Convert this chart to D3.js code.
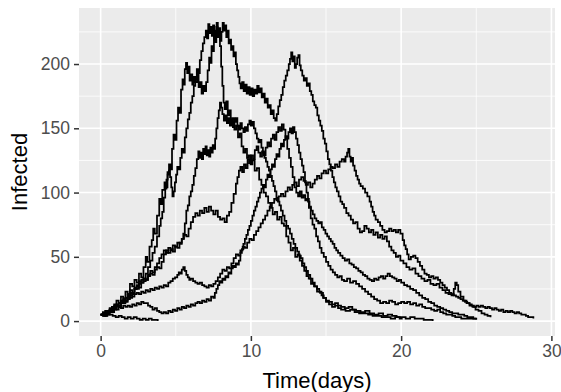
<!DOCTYPE html>
<html><head><meta charset="utf-8">
<script src="https://cdn.jsdelivr.net/npm/d3@7"></script>
<style>html,body{margin:0;padding:0;background:#fff;}svg{display:block;}</style>
</head><body><svg id="chart" width="561" height="392"></svg>
<script>
// ---- data: stochastic epidemic runs, [time (days), infected] ----
const runA = [[0,5],[0.15,6],[0.3,4],[0.45,7],[0.6,9],[0.75,8],[0.9,12],[1.05,16],[1.2,14],[1.35,19],[1.5,17],[1.65,23],[1.8,21],[1.95,29],[2.1,27],[2.25,32],[2.4,30],[2.55,37],[2.7,34],[2.85,42],[3.0,50],[3.1,46],[3.25,58],[3.4,63],[3.5,72],[3.6,68],[3.75,82],[3.9,95],[4.0,91],[4.1,102],[4.25,108],[4.35,104],[4.45,116],[4.55,122],[4.65,118],[4.75,134],[4.85,145],[4.95,141],[5.05,156],[5.15,166],[5.25,162],[5.35,180],[5.45,188],[5.52,184],[5.6,196],[5.68,201],[5.76,193],[5.84,198],[5.92,187],[6.0,192],[6.1,184],[6.2,190],[6.3,186],[6.42,193],[6.52,182],[6.62,186],[6.72,177],[6.82,183],[6.92,179],[7.02,186],[7.12,195],[7.22,205],[7.3,201],[7.38,214],[7.46,210],[7.54,223],[7.62,217],[7.7,229],[7.78,221],[7.86,227],[7.94,214],[8.02,198],[8.1,183],[8.18,170],[8.26,165],[8.36,171],[8.46,160],[8.56,164],[8.66,155],[8.78,158],[8.9,149],[9.02,152],[9.14,143],[9.26,146],[9.38,136],[9.5,131],[9.62,134],[9.74,127],[9.86,129],[9.98,122],[10.1,125],[10.25,117],[10.4,119],[10.55,110],[10.7,106],[10.85,100],[11.0,97],[11.15,92],[11.3,88],[11.45,83],[11.6,85],[11.75,79],[11.9,81],[12.05,76],[12.2,74],[12.35,66],[12.5,61],[12.65,55],[12.8,57],[12.95,50],[13.1,52],[13.25,47],[13.4,43],[13.55,39],[13.7,35],[13.85,33],[14.0,29],[14.2,27],[14.4,23],[14.6,22],[14.8,18],[15.0,15],[15.2,13],[15.4,11],[15.6,12],[15.8,10],[16.0,9],[16.3,8],[16.6,9],[16.9,7],[17.2,6],[17.5,6],[17.8,5],[18.1,4],[18.4,4],[18.7,3],[19.0,3],[19.3,2],[19.6,3],[19.9,2],[20.1,2]];
const runB = [[0,5],[0.15,4],[0.3,6],[0.45,5],[0.6,8],[0.75,7],[0.9,10],[1.05,12],[1.2,11],[1.35,15],[1.5,14],[1.65,18],[1.8,21],[1.95,24],[2.1,22],[2.25,26],[2.4,25],[2.55,29],[2.7,32],[2.85,31],[3.0,37],[3.15,42],[3.3,47],[3.45,53],[3.6,58],[3.75,66],[3.9,74],[4.0,80],[4.1,85],[4.2,96],[4.3,103],[4.38,110],[4.46,114],[4.54,117],[4.62,112],[4.7,104],[4.78,97],[4.86,101],[4.94,108],[5.02,114],[5.1,120],[5.2,118],[5.3,127],[5.4,134],[5.5,131],[5.6,143],[5.7,150],[5.8,157],[5.9,162],[6.0,170],[6.1,175],[6.2,183],[6.3,188],[6.4,196],[6.5,193],[6.6,203],[6.7,210],[6.8,216],[6.9,221],[7.0,226],[7.08,220],[7.16,231],[7.24,224],[7.32,229],[7.4,222],[7.48,230],[7.56,219],[7.64,226],[7.72,232],[7.8,224],[7.88,228],[7.96,218],[8.04,225],[8.12,232],[8.2,226],[8.28,230],[8.36,221],[8.44,226],[8.52,216],[8.6,219],[8.68,211],[8.76,214],[8.84,206],[8.92,209],[9.0,200],[9.08,195],[9.16,190],[9.24,185],[9.32,181],[9.42,186],[9.52,179],[9.62,184],[9.72,177],[9.82,182],[9.92,176],[10.02,181],[10.12,175],[10.22,180],[10.32,177],[10.42,183],[10.52,178],[10.62,181],[10.72,174],[10.82,177],[10.92,170],[11.02,173],[11.12,166],[11.22,168],[11.32,161],[11.42,164],[11.52,158],[11.62,156],[11.72,161],[11.82,167],[11.92,172],[12.02,176],[12.12,182],[12.22,187],[12.32,191],[12.42,195],[12.52,200],[12.6,204],[12.68,209],[12.76,202],[12.84,206],[12.92,197],[13.0,200],[13.08,205],[13.16,207],[13.24,199],[13.32,195],[13.42,191],[13.52,187],[13.62,189],[13.72,183],[13.82,185],[13.92,179],[14.02,176],[14.12,171],[14.22,168],[14.32,166],[14.42,160],[14.52,156],[14.62,152],[14.72,148],[14.82,142],[14.92,138],[15.02,132],[15.12,126],[15.22,122],[15.32,117],[15.42,112],[15.52,108],[15.62,104],[15.72,101],[15.84,97],[15.96,93],[16.08,91],[16.2,88],[16.35,84],[16.5,82],[16.65,79],[16.8,76],[16.95,77],[17.1,72],[17.25,69],[17.4,70],[17.55,74],[17.7,72],[17.85,69],[18.0,71],[18.15,67],[18.3,69],[18.45,65],[18.6,67],[18.75,64],[18.9,66],[19.05,62],[19.2,58],[19.35,55],[19.5,53],[19.65,50],[19.8,51],[19.95,47],[20.15,45],[20.35,42],[20.55,40],[20.75,41],[20.95,37],[21.15,35],[21.35,33],[21.55,31],[21.75,32],[21.95,29],[22.15,28],[22.35,29],[22.55,26],[22.75,24],[22.95,22],[23.15,21],[23.35,20],[23.5,25],[23.6,30],[23.7,28],[23.8,23],[23.95,19],[24.15,16],[24.35,14],[24.55,12],[24.75,11],[24.95,9],[25.15,8],[25.35,6],[25.55,5],[25.75,4],[25.95,3]];
const runC = [[0,5],[0.15,6],[0.3,5],[0.45,8],[0.6,7],[0.75,10],[0.9,9],[1.05,12],[1.2,11],[1.35,14],[1.5,16],[1.65,15],[1.8,19],[1.95,18],[2.1,22],[2.25,25],[2.4,28],[2.55,31],[2.7,30],[2.85,33],[3.0,32],[3.15,35],[3.3,37],[3.45,36],[3.6,40],[3.75,42],[3.9,41],[4.05,46],[4.2,52],[4.35,55],[4.5,53],[4.65,56],[4.8,54],[4.95,58],[5.1,57],[5.25,61],[5.4,64],[5.5,68],[5.6,76],[5.7,86],[5.8,90],[5.9,97],[6.0,101],[6.1,106],[6.2,113],[6.3,119],[6.4,126],[6.5,132],[6.58,127],[6.66,131],[6.74,126],[6.82,134],[6.9,130],[6.98,136],[7.06,129],[7.14,133],[7.22,128],[7.3,135],[7.38,131],[7.46,137],[7.54,134],[7.62,142],[7.7,150],[7.78,158],[7.86,164],[7.94,170],[8.02,166],[8.1,161],[8.2,156],[8.3,160],[8.4,154],[8.5,158],[8.6,152],[8.7,157],[8.8,151],[8.9,155],[9.0,158],[9.1,152],[9.2,149],[9.3,154],[9.4,150],[9.5,147],[9.6,151],[9.7,148],[9.8,153],[9.9,156],[10.0,152],[10.1,155],[10.2,150],[10.3,146],[10.4,142],[10.5,139],[10.6,141],[10.7,135],[10.8,131],[10.9,127],[11.0,124],[11.1,120],[11.2,117],[11.3,113],[11.4,109],[11.5,105],[11.6,101],[11.7,96],[11.8,93],[11.9,90],[12.0,86],[12.12,82],[12.24,78],[12.36,74],[12.48,72],[12.6,68],[12.72,64],[12.84,60],[12.96,57],[13.08,54],[13.2,51],[13.32,49],[13.44,45],[13.56,42],[13.68,39],[13.8,36],[13.95,33],[14.1,30],[14.25,27],[14.4,25],[14.55,23],[14.7,20],[14.85,18],[15.0,16],[15.2,15],[15.4,13],[15.6,14],[15.8,12],[16.0,11],[16.25,10],[16.5,11],[16.75,9],[17.0,8],[17.3,7],[17.6,8],[17.9,6],[18.2,5],[18.5,6],[18.8,4],[19.1,5],[19.4,4],[19.7,3],[20.0,3],[20.3,2],[20.6,3],[20.9,2],[21.2,2],[21.5,1],[21.8,1],[22.1,0]];
const runD = [[0,5],[0.15,6],[0.3,5],[0.45,7],[0.6,9],[0.75,8],[0.9,11],[1.05,13],[1.2,12],[1.35,15],[1.5,17],[1.65,16],[1.8,20],[1.95,22],[2.1,21],[2.25,25],[2.4,27],[2.55,26],[2.7,30],[2.85,33],[3.0,32],[3.15,36],[3.3,39],[3.45,38],[3.6,42],[3.75,45],[3.9,49],[4.05,52],[4.2,55],[4.35,53],[4.5,57],[4.65,55],[4.8,59],[4.95,58],[5.1,61],[5.25,60],[5.4,64],[5.55,67],[5.7,66],[5.85,72],[6.0,77],[6.15,81],[6.3,84],[6.45,82],[6.6,86],[6.75,84],[6.9,88],[7.05,85],[7.2,89],[7.35,86],[7.5,83],[7.65,86],[7.8,81],[7.95,79],[8.1,80],[8.25,77],[8.4,82],[8.55,85],[8.7,92],[8.85,99],[9.0,107],[9.1,112],[9.2,117],[9.3,120],[9.42,116],[9.54,122],[9.66,119],[9.78,126],[9.9,123],[10.02,129],[10.14,126],[10.26,133],[10.38,136],[10.5,131],[10.62,128],[10.74,132],[10.86,129],[10.98,135],[11.1,139],[11.22,136],[11.34,142],[11.46,145],[11.58,141],[11.7,147],[11.82,151],[11.94,148],[12.06,153],[12.18,149],[12.3,142],[12.42,134],[12.54,127],[12.66,120],[12.78,112],[12.9,104],[13.02,100],[13.14,97],[13.26,101],[13.38,96],[13.5,98],[13.62,94],[13.74,95],[13.86,88],[13.98,80],[14.1,75],[14.22,72],[14.34,66],[14.46,62],[14.58,57],[14.7,53],[14.85,50],[15.0,46],[15.15,43],[15.3,40],[15.45,38],[15.6,36],[15.75,34],[15.9,35],[16.05,32],[16.2,31],[16.4,33],[16.6,30],[16.8,31],[17.0,29],[17.2,27],[17.4,25],[17.6,23],[17.8,21],[18.0,19],[18.2,17],[18.4,16],[18.6,14],[18.8,15],[19.0,14],[19.2,16],[19.4,15],[19.6,13],[19.8,14],[20.0,15],[20.2,14],[20.4,15],[20.6,13],[20.8,14],[21.0,12],[21.2,13],[21.4,11],[21.6,10],[21.8,10],[22.0,9],[22.2,8],[22.4,9],[22.6,7],[22.8,6],[23.0,5],[23.2,5],[23.4,4],[23.6,3],[23.8,3],[24.0,2],[24.3,2],[24.6,2],[25.0,1]];
const runE = [[0,5],[0.15,6],[0.3,8],[0.45,7],[0.6,10],[0.75,11],[0.9,13],[1.05,12],[1.2,14],[1.35,16],[1.5,15],[1.65,18],[1.8,17],[1.95,20],[2.1,19],[2.25,21],[2.4,22],[2.55,21],[2.7,23],[2.85,22],[3.0,24],[3.15,23],[3.3,25],[3.45,24],[3.6,26],[3.75,25],[3.9,27],[4.05,26],[4.2,28],[4.35,27],[4.5,30],[4.65,31],[4.8,33],[4.95,34],[5.1,36],[5.2,38],[5.3,37],[5.4,40],[5.5,42],[5.6,39],[5.7,36],[5.8,34],[5.9,32],[6.0,33],[6.15,31],[6.3,30],[6.45,29],[6.6,30],[6.75,28],[6.9,27],[7.05,26],[7.2,28],[7.35,27],[7.5,29],[7.65,31],[7.8,34],[7.95,37],[8.1,40],[8.25,39],[8.4,42],[8.55,41],[8.7,45],[8.85,49],[9.0,52],[9.15,51],[9.3,55],[9.45,58],[9.6,57],[9.75,61],[9.9,64],[10.05,63],[10.2,67],[10.35,70],[10.5,73],[10.65,76],[10.8,79],[10.95,82],[11.1,86],[11.25,89],[11.4,92],[11.55,95],[11.7,94],[11.85,97],[12.0,99],[12.15,97],[12.3,101],[12.45,104],[12.6,102],[12.75,106],[12.9,108],[13.05,105],[13.2,110],[13.35,112],[13.5,109],[13.65,106],[13.8,108],[13.95,104],[14.1,107],[14.25,110],[14.4,113],[14.55,111],[14.7,115],[14.85,117],[15.0,115],[15.15,118],[15.3,120],[15.45,119],[15.6,122],[15.75,120],[15.9,124],[16.05,126],[16.2,124],[16.3,128],[16.4,131],[16.48,134],[16.56,128],[16.64,124],[16.72,127],[16.8,121],[16.9,117],[17.0,113],[17.1,110],[17.2,107],[17.3,105],[17.45,103],[17.6,100],[17.75,97],[17.9,93],[18.0,89],[18.1,85],[18.2,82],[18.3,79],[18.45,77],[18.6,74],[18.75,71],[18.9,69],[19.05,70],[19.2,72],[19.35,70],[19.5,71],[19.65,69],[19.8,71],[19.95,68],[20.1,63],[20.2,59],[20.3,56],[20.4,52],[20.5,48],[20.65,50],[20.8,51],[20.95,49],[21.1,46],[21.25,43],[21.4,40],[21.55,37],[21.7,36],[21.85,34],[22.0,35],[22.15,33],[22.3,34],[22.45,32],[22.6,30],[22.75,28],[22.9,26],[23.05,24],[23.2,22],[23.35,21],[23.5,20],[23.65,19],[23.8,18],[23.95,17],[24.1,16],[24.25,15],[24.4,14],[24.55,13],[24.7,12],[24.85,11],[25.0,12],[25.15,11],[25.3,12],[25.45,11],[25.6,10],[25.75,11],[25.9,10],[26.05,9],[26.2,10],[26.35,9],[26.5,8],[26.65,9],[26.8,7],[26.95,8],[27.1,7],[27.25,8],[27.4,7],[27.55,6],[27.7,7],[27.85,6],[28.0,5],[28.15,5],[28.3,4],[28.45,3],[28.6,3],[28.8,2]];
const runF = [[0,5],[0.15,7],[0.3,6],[0.45,8],[0.6,9],[0.75,8],[0.9,10],[1.05,9],[1.2,11],[1.35,10],[1.5,12],[1.65,11],[1.8,12],[1.95,11],[2.1,13],[2.25,12],[2.4,14],[2.55,13],[2.7,15],[2.85,14],[3.0,14],[3.15,12],[3.3,11],[3.45,9],[3.6,10],[3.75,8],[3.9,7],[4.05,6],[4.2,7],[4.35,6],[4.5,8],[4.65,7],[4.8,9],[4.95,8],[5.1,10],[5.25,9],[5.4,11],[5.55,10],[5.7,12],[5.85,11],[6.0,13],[6.15,12],[6.3,14],[6.45,15],[6.6,14],[6.75,16],[6.9,15],[7.05,17],[7.2,16],[7.35,19],[7.5,18],[7.6,22],[7.7,25],[7.8,28],[7.9,31],[8.0,30],[8.1,33],[8.2,32],[8.3,35],[8.4,34],[8.5,38],[8.6,37],[8.7,41],[8.8,43],[8.9,42],[9.0,45],[9.1,44],[9.2,47],[9.3,53],[9.4,56],[9.5,60],[9.6,64],[9.7,67],[9.8,71],[9.9,74],[10.0,78],[10.1,82],[10.2,86],[10.3,89],[10.4,93],[10.5,96],[10.6,100],[10.7,103],[10.8,106],[10.9,104],[11.0,110],[11.1,114],[11.2,112],[11.3,118],[11.4,122],[11.5,120],[11.6,126],[11.7,130],[11.8,128],[11.9,134],[12.0,138],[12.1,136],[12.2,141],[12.3,144],[12.4,142],[12.5,147],[12.6,150],[12.7,146],[12.8,151],[12.9,147],[13.0,142],[13.1,137],[13.2,131],[13.3,126],[13.4,121],[13.5,116],[13.6,108],[13.7,100],[13.8,93],[13.9,89],[14.0,86],[14.12,83],[14.24,80],[14.36,78],[14.48,76],[14.6,77],[14.72,73],[14.84,71],[14.96,68],[15.08,66],[15.2,64],[15.32,62],[15.44,60],[15.56,57],[15.68,55],[15.8,53],[15.95,51],[16.1,49],[16.25,47],[16.4,48],[16.55,45],[16.7,44],[16.85,42],[17.0,41],[17.15,39],[17.3,38],[17.45,36],[17.6,35],[17.75,33],[17.9,32],[18.05,31],[18.2,33],[18.35,32],[18.5,34],[18.65,35],[18.8,33],[18.95,35],[19.1,37],[19.25,35],[19.4,34],[19.55,33],[19.7,31],[19.85,32],[20.0,30],[20.2,28],[20.4,27],[20.6,25],[20.8,24],[21.0,22],[21.2,20],[21.4,18],[21.6,17],[21.8,15],[22.0,14],[22.2,12],[22.4,11],[22.6,10],[22.8,9],[23.0,8],[23.2,7],[23.4,6],[23.6,6],[23.8,5],[24.0,5],[24.2,4],[24.4,3],[24.6,3],[24.8,2],[25.0,2]];
const runG = [[0,5],[0.2,4],[0.4,6],[0.6,5],[0.8,4],[1.0,3],[1.2,4],[1.4,3],[1.6,2],[1.8,3],[2.0,2],[2.2,3],[2.4,2],[2.6,1],[2.8,2],[3.0,1],[3.2,2],[3.4,1],[3.6,1],[3.8,0]];
const runs = [runA, runB, runC, runD, runE, runF, runG];

const xMajor = [0, 10, 20, 30];
const xMinor = [5, 15, 25];
const yMajor = [0, 50, 100, 150, 200];
const yMinor = [25, 75, 125, 175, 225];
const xTitle = "Time(days)";
const yTitle = "Infected";

// ---- layout ----
const W = 561, H = 392;
const panel = {left: 79, right: 555, top: 8, bottom: 336};
const svg = d3.select("#chart");
const font = "'Liberation Sans', Arial, sans-serif";

const all = runs.flat();
const xExt = d3.extent(all, d => d[0]);
const yExt = d3.extent(all, d => d[1]);
const xPad = (xExt[1] - xExt[0]) * 0.05, yPad = (yExt[1] - yExt[0]) * 0.05;
const x = d3.scaleLinear().domain([xExt[0] - xPad, xExt[1] + xPad]).range([panel.left, panel.right]);
const y = d3.scaleLinear().domain([yExt[0] - yPad, yExt[1] + yPad]).range([panel.bottom, panel.top]);

svg.append("rect").attr("width", W).attr("height", H).attr("fill", "#fff");
svg.append("rect").attr("x", panel.left).attr("y", panel.top)
  .attr("width", panel.right - panel.left).attr("height", panel.bottom - panel.top)
  .attr("fill", "#EBEBEB");

const grid = svg.append("g");
grid.selectAll(".xmin").data(xMinor).join("line")
  .attr("x1", d => x(d)).attr("x2", d => x(d)).attr("y1", panel.top).attr("y2", panel.bottom)
  .attr("stroke", "#fff").attr("stroke-width", 0.8);
grid.selectAll(".ymin").data(yMinor).join("line")
  .attr("y1", d => y(d)).attr("y2", d => y(d)).attr("x1", panel.left).attr("x2", panel.right)
  .attr("stroke", "#fff").attr("stroke-width", 0.8);
grid.selectAll(".xmaj").data(xMajor).join("line")
  .attr("x1", d => x(d)).attr("x2", d => x(d)).attr("y1", panel.top).attr("y2", panel.bottom)
  .attr("stroke", "#fff").attr("stroke-width", 1.6);
grid.selectAll(".ymaj").data(yMajor).join("line")
  .attr("y1", d => y(d)).attr("y2", d => y(d)).attr("x1", panel.left).attr("x2", panel.right)
  .attr("stroke", "#fff").attr("stroke-width", 1.6);

svg.append("clipPath").attr("id", "clip").append("rect")
  .attr("x", panel.left).attr("y", panel.top)
  .attr("width", panel.right - panel.left).attr("height", panel.bottom - panel.top);

const line = d3.line().x(d => x(d[0])).y(d => y(d[1])).curve(d3.curveStepAfter);
svg.append("g").attr("clip-path", "url(#clip)")
  .selectAll("path").data(runs).join("path")
  .attr("d", line).attr("fill", "none").attr("stroke", "#000")
  .attr("stroke-width", 1.75).attr("stroke-linejoin", "miter");

// axes
const xAxis = d3.axisBottom(x).tickValues(xMajor).tickSize(5).tickPadding(4).tickFormat(d3.format("d"));
const yAxis = d3.axisLeft(y).tickValues(yMajor).tickSize(5).tickPadding(4).tickFormat(d3.format("d"));
const gx = svg.append("g").attr("transform", `translate(0,${panel.bottom})`).call(xAxis);
const gy = svg.append("g").attr("transform", `translate(${panel.left},0)`).call(yAxis);
[gx, gy].forEach(g => {
  g.select(".domain").remove();
  g.selectAll(".tick line").attr("stroke", "#333333").attr("stroke-width", 1.5);
  g.selectAll(".tick text").attr("fill", "#4D4D4D").style("font-family", font).style("font-size", "17.5px");
});

svg.append("text").attr("x", (panel.left + panel.right) / 2).attr("y", 388)
  .attr("text-anchor", "middle").style("font-family", font).style("font-size", "22px")
  .attr("fill", "#000").text(xTitle);
svg.append("text").attr("transform", `translate(27,${(panel.top + panel.bottom) / 2}) rotate(-90)`)
  .attr("text-anchor", "middle").style("font-family", font).style("font-size", "22px")
  .attr("fill", "#000").text(yTitle);
</script></body></html>
